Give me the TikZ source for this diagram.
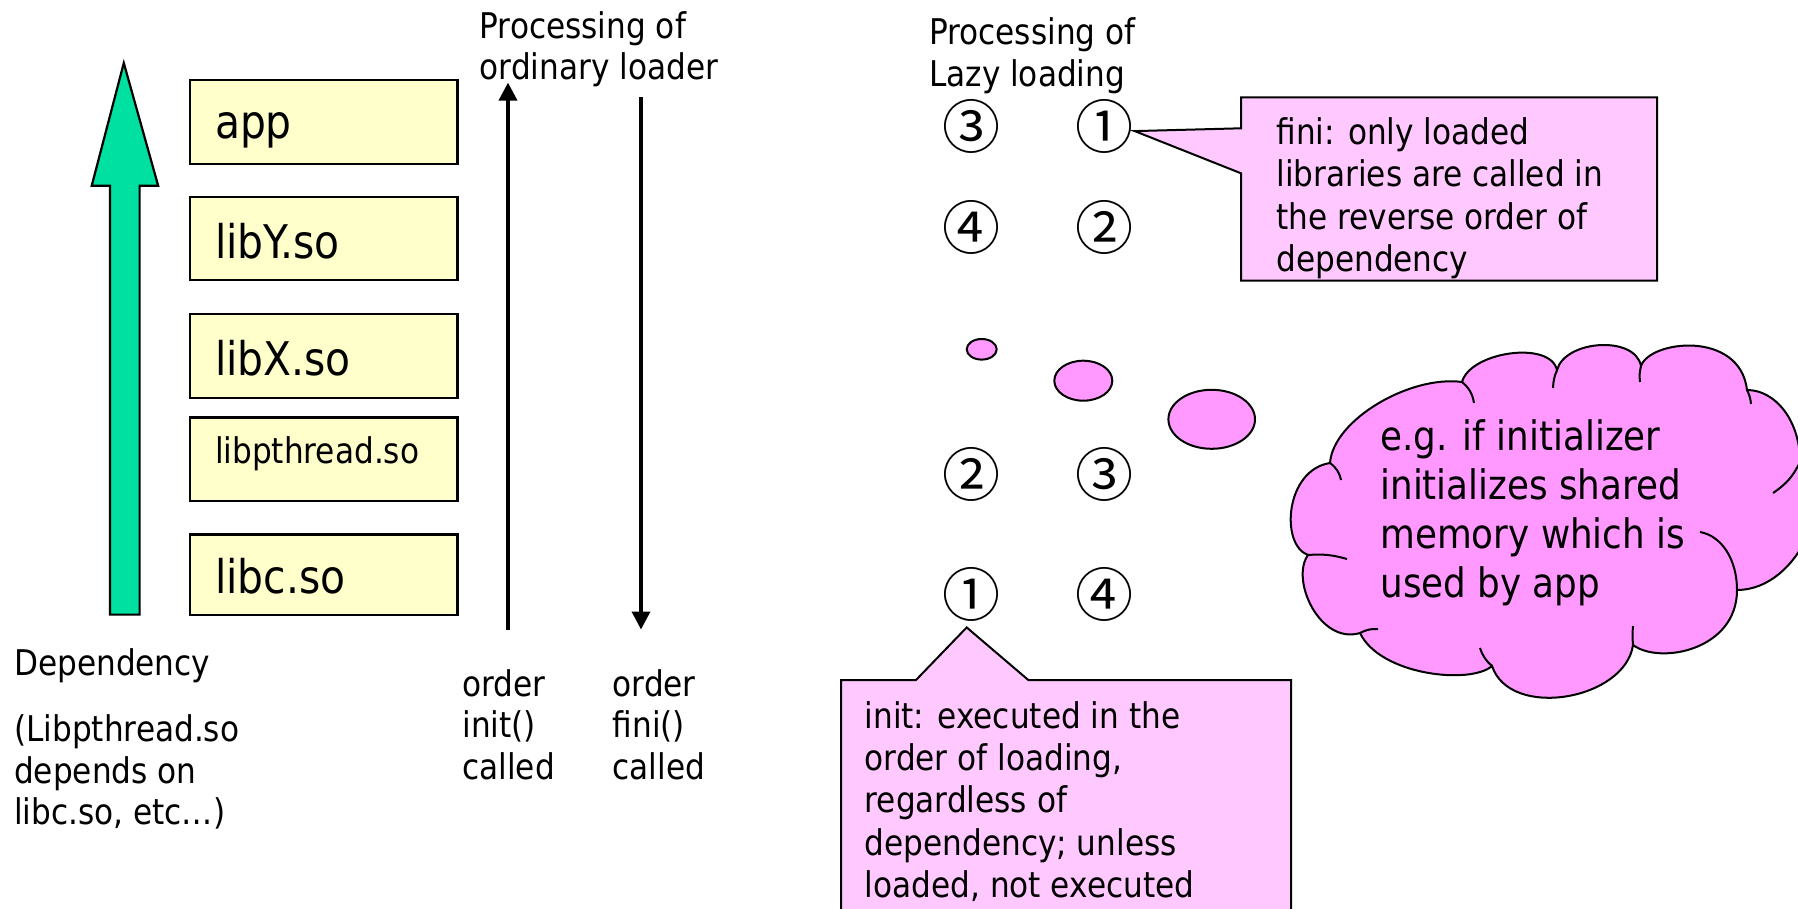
\documentclass[tikz,border=0pt]{standalone}
\usepackage{fontspec}
\setmainfont{DejaVu Sans}[FakeStretch=0.88]
\newfontfamily\cjkfont{Noto Sans CJK JP}
\usetikzlibrary{arrows.meta,calc}

\definecolor{boxfill}{RGB}{255,255,204}
\definecolor{depgreen}{RGB}{0,224,160}
\definecolor{noteback}{RGB}{255,200,255}
\definecolor{cloudpink}{RGB}{255,153,255}

\newcommand\fsz[2]{\fontsize{#1}{#2}\selectfont}

\tikzset{
  libbox/.style={draw=black, line width=1.1pt, fill=boxfill,
    minimum width=133.6pt, text width=108.9pt, inner xsep=12.35pt, inner ysep=0pt,
    align=left, text depth=0pt, font=\fsz{23.2}{27}},
  % multi-line texts are anchored at the baseline of their last line
  txt/.style={anchor=base west, inner sep=0pt, align=left, font=\fsz{17.7}{20.65}},
  ordarrow/.style={line width=1.8pt, -{Triangle[width=9pt,length=9pt]}},
  numc/.style={inner sep=0pt, font=\cjkfont\fsz{29}{29}},
  note/.style={draw=black, line width=1pt, fill=noteback, line join=miter},
  bubble/.style={draw=black, line width=1pt, fill=cloudpink},
}

\begin{document}
\begin{tikzpicture}[x=0.5pt,y=-0.5pt]
\useasboundingbox (0,0) rectangle (1798,909);
\clip (0,0) rectangle (1798,909);
\fill[white] (0,0) rectangle (1798,909);

% dependency arrow
\filldraw[fill=depgreen, draw=black, line width=1.1pt, line join=miter]
  (110,614.6) -- (110,185.8) -- (91.7,185.8) -- (123.8,63) -- (158.2,185.8)
  -- (139.6,185.8) -- (139.6,614.6) -- cycle;

% library stack
\node[libbox, minimum height=41.85pt, text height=16pt] (app) at (323.9,122.2) {app};
\node[libbox, minimum height=41.3pt, text height=19.5pt] (liby) at (323.9,238.5) {libY.so};
\node[libbox, minimum height=41.85pt, text height=19pt] (libx) at (323.9,356) {libX.so};
\node[libbox, minimum height=41.85pt, text height=3.7pt, font=\fsz{17.7}{20}] (libpth) at (323.9,459.3) {libpthread.so};
\node[libbox, minimum height=40.1pt, text height=18.5pt] (libc) at (323.9,574.5) {libc.so};

\node[txt] (deplabel) at (13.8,675) {Dependency};
\node[txt] (depnote) at (13.8,824.5) {(Libpthread.so\\depends on\\libc.so, etc…)};

% ordinary loader
\node[txt] (procord) at (479.3,79.8) {Processing of\\ordinary loader};
\coordinate (upfrom) at (508,629.5);
\coordinate (upto) at (508,82.6);
\coordinate (downfrom) at (641,97.5);
\coordinate (downto) at (641,629.5);
\draw[ordarrow] (upfrom) -- (upto);
\draw[ordarrow] (downfrom) -- (downto);
\node[txt] (initord) at (462,779) {order\\init()\\called};
\node[txt] (finiord) at (612.3,779) {order\\fini()\\called};

% lazy loading
\node[txt] (proclazy) at (928.8,86.1) {Processing of\\Lazy loading};
\node[numc] (fa) at (971.3,126.1) {③};
\node[numc] (fb) at (1104.3,126.1) {①};
\node[numc] (fc) at (971.3,227) {④};
\node[numc] (fd) at (1104.3,227) {②};
\node[numc] (ia) at (971.3,474.7) {②};
\node[numc] (ib) at (1104.3,474.7) {③};
\node[numc] (ic) at (971.3,594) {①};
\node[numc] (id) at (1104.3,594) {④};

% fini callout
\coordinate (finitip) at ($(fb.east)+(1,5)$);
\path[note] (1241,97.3) -- (1657,97.3) -- (1657,280.7) -- (1241,280.7)
  -- (1241,173.3) -- (finitip) -- (1241,128.3) -- cycle;
\node[txt, font=\fsz{17.7}{21.2}] (finitext) at (1276,271.7)
  {fini: only loaded\\libraries are called in\\the reverse order of\\dependency};

% init callout
\coordinate (inittip) at ($(ic.south)+(-4.6,6)$);
\path[note] (841,680) -- (916,680) -- (inittip) -- (1028.3,680) -- (1291,680)
  -- (1291,930) -- (841,930) -- cycle;
\node[txt, font=\fsz{17.7}{21.2}] (inittext) at (864.3,897.7)
  {init: executed in the\\order of loading,\\regardless of\\dependency; unless\\loaded, not executed};

% thought bubbles
\draw[bubble] (981.7,349.3) ellipse [x radius=15, y radius=10.3];
\draw[bubble] (1083.3,380.7) ellipse [x radius=29, y radius=20];
\draw[bubble] (1211.7,419.3) ellipse [x radius=43.3, y radius=29.5];

% cloud: cusps between the puffs
\coordinate (C1) at (1330,463);
\coordinate (C2) at (1462,382);
\coordinate (C3) at (1557,370);
\coordinate (C4) at (1641,366);
\coordinate (C5) at (1747,390);
\coordinate (C6) at (1800,462);
\coordinate (C7) at (1737,590);
\coordinate (C8) at (1633,645);
\coordinate (C9) at (1492,666);
\coordinate (C10) at (1360,633);
\coordinate (C11) at (1308,555);
\draw[bubble]
  (C1) .. controls (1333,420) and (1410,375) .. (C2)
       .. controls (1470,352) and (1550,340) .. (C3)
       .. controls (1565,340) and (1635,335) .. (C4)
       .. controls (1650,340) and (1740,330) .. (C5)
       .. controls (1775,390) and (1800,420) .. (C6)
       .. controls (1840,490) and (1800,590) .. (C7)
       .. controls (1737,650) and (1660,665) .. (C8)
       .. controls (1625,700) and (1510,720) .. (C9)
       .. controls (1470,685) and (1380,675) .. (C10)
       .. controls (1320,645) and (1290,580) .. (C11)
       .. controls (1280,545) and (1285,470) .. (C1) -- cycle;
% inner strokes of the puffs
\begin{scope}[line width=1pt]
  \draw (C1) to[bend left=20] (1341,480);
  \draw (C2) to[bend left=20] (1474,403);
  \draw (C3) to[bend right=10] (1553,388);
  \draw (C4) to[bend right=10] (1640,382);
  \draw (C5) to[bend left=10] (1751,404);
  \draw (C6) to[bend left=15] (1773,493);
  \draw (C7) .. controls (1737,560) and (1722,536) .. (1700,532);
  \draw (C8) to[bend left=5] (1633,626);
  \draw (C9) to[bend left=15] (1480,648);
  \draw (C10) to[bend left=15] (1378,629);
  \draw (C11) to[bend left=10] (1347,559);
\end{scope}
\node[txt, font=\fsz{20.3}{24.5}] (cloudtext) at (1380,597)
  {e.g. if initializer\\initializes shared\\memory which is\\used by app};
\end{tikzpicture}
\end{document}
